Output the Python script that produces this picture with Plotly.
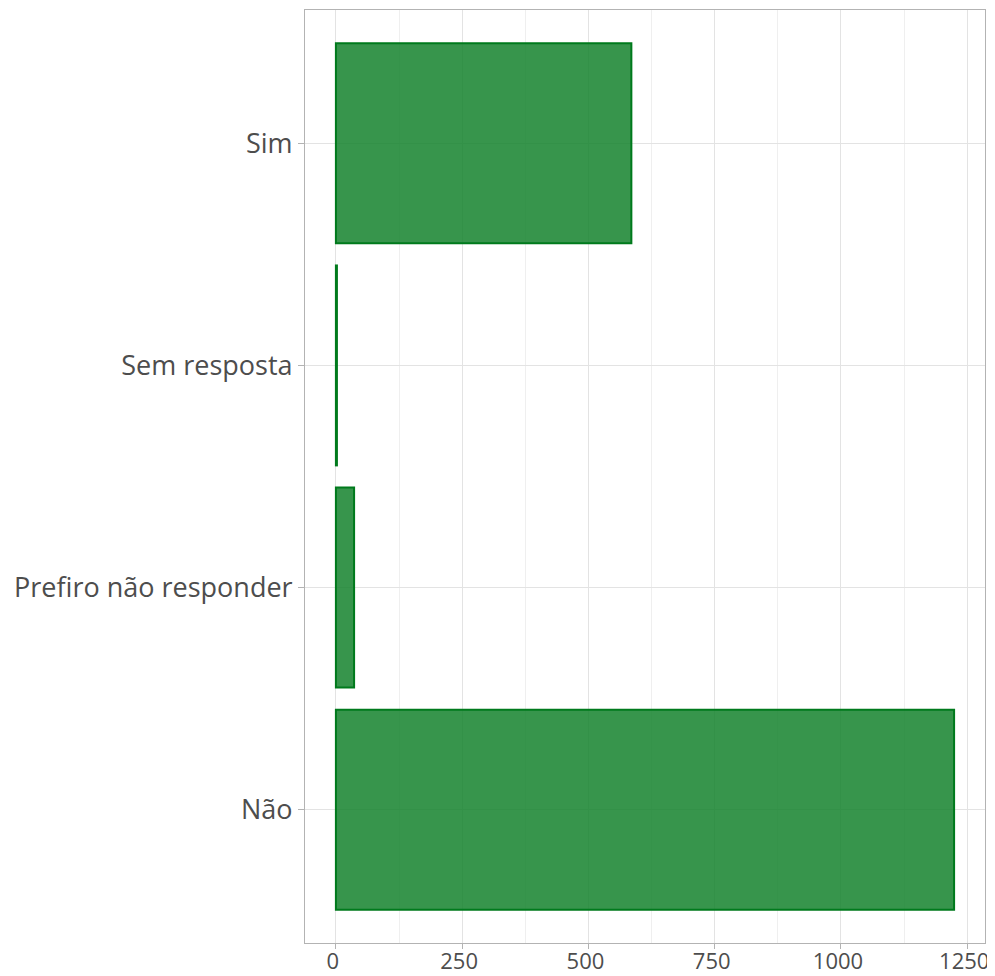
import plotly.graph_objects as go

categories = ["Não", "Prefiro não responder", "Sem resposta", "Sim"]
counts = [1224, 36, 2, 585]
x_ticks = [0, 250, 500, 750, 1000, 1250]

FILL = "rgba(20,130,45,0.85)"
EDGE = "#007a1c"
GRID = "#e3e3e3"
TEXT = "#4d4d4d"
FONT = "Open Sans, sans-serif"

fig = go.Figure(go.Bar(
    y=categories,
    x=counts,
    orientation="h",
    width=0.9,
    marker=dict(color=FILL, line=dict(color=EDGE, width=2)),
    showlegend=False,
))

# page body adds an 8px offset, so the figure is a bit smaller than the window
fig.update_layout(
    width=987,
    height=968,
    plot_bgcolor="white",
    paper_bgcolor="white",
    font=dict(family=FONT, size=27, color=TEXT),
    margin=dict(l=297, r=10, t=2, b=33),
)
fig.update_xaxes(
    range=[-61.2, 1285.2],
    tickvals=x_ticks,
    ticktext=[str(v) for v in x_ticks],
    showgrid=True,
    gridcolor=GRID,
    gridwidth=1,
    minor=dict(dtick=125, showgrid=True, gridcolor="#efefef", gridwidth=1),
    zeroline=False,
    ticks="outside",
    ticklen=5,
    tickcolor="#b3b3b3",
    showline=True,
    linecolor="#b3b3b3",
    mirror=True,
    automargin=False,
    ticklabeloverflow="allow",
    ticklabelstandoff=-6,
    ticklabelshift=-3,
    tickfont=dict(size=22, color=TEXT),
)
fig.update_yaxes(
    categoryorder="array",
    categoryarray=categories,
    range=[-0.6, 3.6],
    showgrid=True,
    gridcolor=GRID,
    gridwidth=1,
    ticks="outside",
    ticklen=6,
    tickcolor="#b3b3b3",
    showline=True,
    linecolor="#b3b3b3",
    mirror=True,
    automargin=False,
    tickfont=dict(size=27, color=TEXT),
)

fig.write_html("out.html")
